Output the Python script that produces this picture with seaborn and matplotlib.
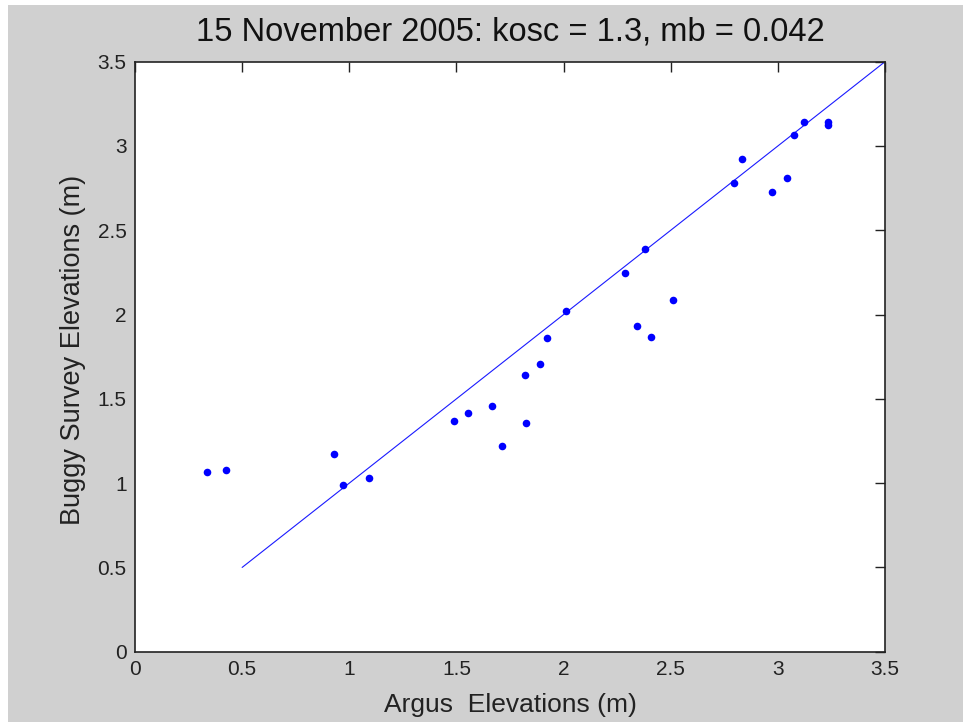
import matplotlib
matplotlib.use("Agg")
import matplotlib.pyplot as plt
from matplotlib.patches import Rectangle
import seaborn as sns
import pandas as pd

# Survey comparison: Argus-derived vs. buggy-surveyed beach elevations (m)
argus_elev = [0.335, 0.423, 0.930, 0.972, 1.092, 1.487, 1.552, 1.666, 1.714,
              1.818, 1.826, 1.890, 1.924, 2.011, 2.285, 2.342, 2.381, 2.406,
              2.512, 2.794, 2.834, 2.971, 3.044, 3.074, 3.123, 3.235, 3.235]
buggy_elev = [1.068, 1.080, 1.171, 0.989, 1.028, 1.367, 1.418, 1.457, 1.222,
              1.643, 1.356, 1.705, 1.859, 2.022, 2.248, 1.932, 2.390, 1.868,
              2.084, 2.780, 2.924, 2.728, 2.811, 3.067, 3.140, 3.144, 3.125]

# 1:1 reference line
ref_x = [0.5, 3.5]
ref_y = [0.5, 3.5]

tick_vals = [0, 0.5, 1, 1.5, 2, 2.5, 3, 3.5]
tick_labels = ["0", "0.5", "1", "1.5", "2", "2.5", "3", "3.5"]

title_text = "15 November 2005: kosc = 1.3, mb = 0.042"
x_label = "Argus  Elevations (m)"
y_label = "Buggy Survey Elevations (m)"

sns.set_style("white")
plt.rcParams["font.family"] = ["Liberation Sans", "DejaVu Sans"]

fig = plt.figure(figsize=(9.63, 7.25), dpi=100, facecolor="white")
# grey figure panel with a thin white margin on the left, top and bottom
fig.patches.append(Rectangle((8 / 963, 3 / 725), 1 - 8 / 963, 1 - 8 / 725,
                             transform=fig.transFigure, facecolor="#d0d0d0",
                             edgecolor="none", zorder=-10))

ax = fig.add_axes([135 / 963, 1 - 651.7 / 725, 750 / 963, 590 / 725])
ax.set_facecolor("white")

pts = pd.DataFrame({"argus": argus_elev, "buggy": buggy_elev})
ref = pd.DataFrame({"x": ref_x, "y": ref_y})

sns.lineplot(data=ref, x="x", y="y", ax=ax, color="#1a1aff", linewidth=0.8,
             estimator=None, sort=False)
sns.scatterplot(data=pts, x="argus", y="buggy", ax=ax, color="#0000ff",
                s=30, linewidth=0, zorder=3)

ax.set_xlim(0, 3.5)
ax.set_ylim(0, 3.5)
ax.set_xticks(tick_vals)
ax.set_xticklabels(tick_labels)
ax.set_yticks(tick_vals)
ax.set_yticklabels(tick_labels)
ax.tick_params(direction="in", length=7, width=1, color="#222222",
               labelsize=15, labelcolor="#222222", top=True, right=True,
               pad=6)
for sp in ax.spines.values():
    sp.set_color("#222222")
    sp.set_linewidth(1.2)
    sp.set_visible(True)

ax.set_xlabel(x_label, fontsize=19, color="#222222")
ax.xaxis.label.set_verticalalignment("baseline")
ax.xaxis.set_label_coords(0.5, -(711.7 - 651.7) / 590)

ax.set_ylabel(y_label, fontsize=19.5, color="#222222")
ax.yaxis.label.set_verticalalignment("baseline")
ax.yaxis.set_label_coords((80 - 135) / 750, (651.7 - 350) / 590)

ax.set_title(title_text, fontsize=23.5, color="#111111", pad=15)

fig.savefig("out.png", dpi=100, facecolor=fig.get_facecolor())
